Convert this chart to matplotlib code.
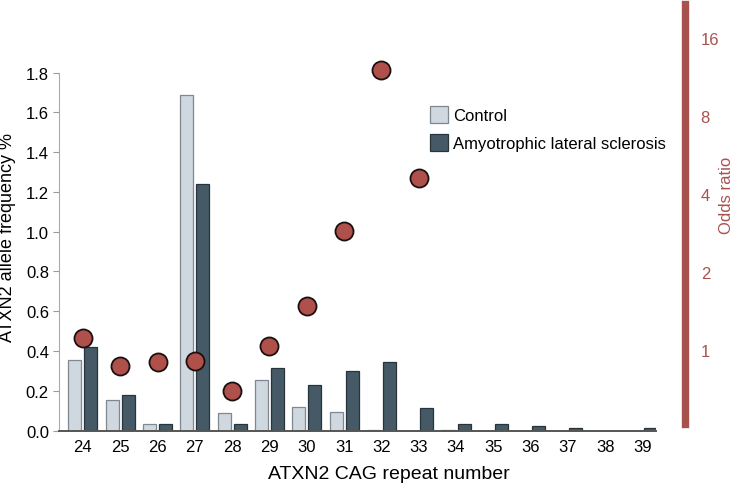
import numpy as np
import matplotlib.pyplot as plt
from matplotlib.ticker import FixedLocator, FixedFormatter, NullLocator

plt.rcParams['font.family'] = ['Liberation Sans', 'DejaVu Sans']

########
# Data #
########
repeats = [24, 25, 26, 27, 28, 29, 30, 31, 32, 33, 34, 35, 36, 37, 38, 39]
control = [0.355, 0.153, 0.033, 1.688, 0.086, 0.255, 0.120, 0.091, 0.005, 0.0,
           0.005, 0.0, 0.0, 0.0, 0.0, 0.0]
als = [0.420, 0.178, 0.033, 1.240, 0.033, 0.312, 0.227, 0.297, 0.347, 0.114,
       0.033, 0.033, 0.023, 0.014, 0.0, 0.014]
odds_repeats = [24, 25, 26, 27, 28, 29, 30, 31, 32, 33]
odds_ratio = [1.12, 0.87, 0.90, 0.91, 0.695, 1.04, 1.49, 2.90, 12.1, 4.61]
or_ticks = [1, 2, 4, 8, 16]

ctrl_color = '#cfd8df'
als_color = '#455a66'
red = '#a8524e'

fig = plt.figure(figsize=(7.36, 4.85), dpi=100)
ax = fig.add_axes([0.0802, 0.1103, 0.8111, 0.8794])

###############
# Allele bars #
###############
ind = np.arange(len(repeats))
width = 0.35
gap = 0.04
ax.bar(ind - width / 2 - gap, control, width, color=ctrl_color,
       edgecolor='#7f8790', linewidth=0.9, label='Control')
ax.bar(ind + width / 2 + gap, als, width, color=als_color,
       edgecolor='#27343b', linewidth=0.9, label='Amyotrophic lateral sclerosis')

ax.set_xlim(-0.64, len(repeats) - 0.64)
ax.set_ylim(0, 2.145)
ax.set_xticks(ind)
ax.set_xticklabels(repeats)
ax.set_yticks(np.arange(0, 1.81, 0.2))
ax.set_yticklabels(['%.1f' % v for v in np.arange(0, 1.81, 0.2)])
ax.tick_params(axis='x', length=0, labelsize=12, pad=6)
ax.tick_params(axis='y', length=4.3, color='#999999', labelsize=12, pad=3)
ax.spines['top'].set_visible(False)
ax.spines['right'].set_visible(False)
ax.spines['left'].set_color('#aaaaaa')
ax.spines['left'].set_bounds(0, 1.8)
ax.spines['bottom'].set_color('#555555')
ax.spines['bottom'].set_linewidth(1.4)
ax.set_xlabel('ATXN2 CAG repeat number', fontsize=14)
ax.xaxis.set_label_coords(0.553, -0.08)
ax.set_ylabel('ATXN2 allele frequency %', fontsize=13)
ax.yaxis.set_label_coords(-0.072, 0.454)

ax.legend(loc='upper left', bbox_to_anchor=(430 / 736, 1 - 107 / 485),
          bbox_transform=fig.transFigure, frameon=False, fontsize=12,
          handlelength=1.08, handleheight=1.2, handletextpad=0.3,
          labelspacing=0.66, borderpad=0, borderaxespad=0)

##############
# Odds ratio #
##############
ax2 = ax.twinx()
ax2.set_yscale('log', base=2)
ax2.set_ylim(0.491, 21.7)
or_x = [repeats.index(r) for r in odds_repeats]
ax2.plot(or_x, odds_ratio, 'o', markersize=13, markerfacecolor='#b0504b',
         markeredgecolor='#1a1010', markeredgewidth=1.3, zorder=5)
ax2.yaxis.set_major_locator(FixedLocator(or_ticks))
ax2.yaxis.set_major_formatter(FixedFormatter([str(t) for t in or_ticks]))
ax2.yaxis.set_minor_locator(NullLocator())
ax2.tick_params(axis='y', length=0, colors=red, labelsize=12, pad=11.5)
for s in ['top', 'left', 'bottom']:
    ax2.spines[s].set_visible(False)
ax2.spines['right'].set_position(('outward', 20.7))
ax2.spines['right'].set_color(red)
ax2.spines['right'].set_linewidth(5.3)
ax2.spines['right'].set_bounds(0.52, 21.7)
ax2.set_ylabel('Odds ratio', color=red, fontsize=12)
ax2.yaxis.set_label_coords(1.105, 0.5545)

plt.savefig('out.png', dpi=100)
